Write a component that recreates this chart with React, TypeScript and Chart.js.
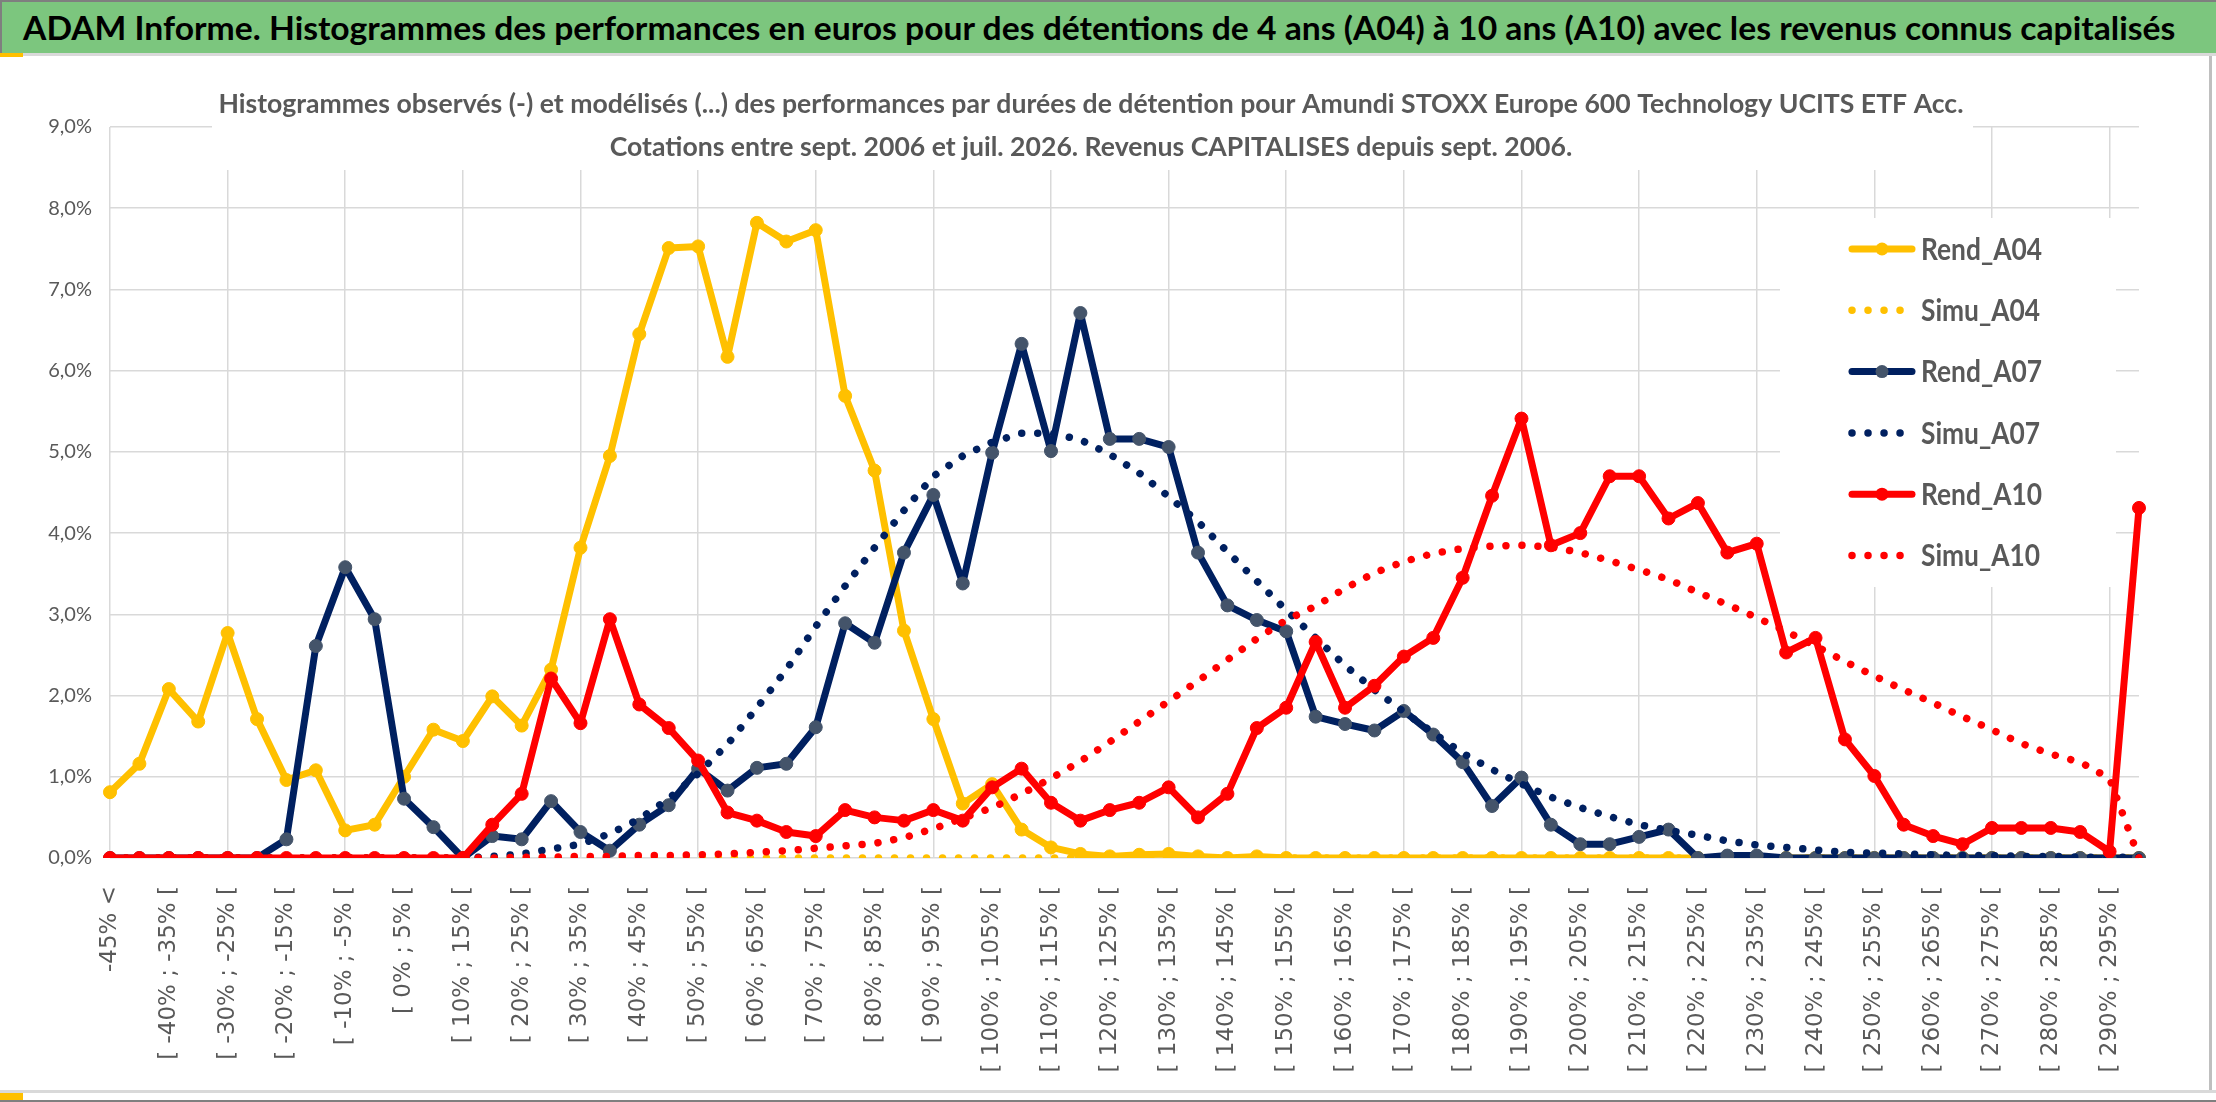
import { useEffect, useMemo, useRef } from "react";
import { Chart, registerables } from "chart.js";

Chart.register(...registerables);

const W = 2216;
const H = 1102;

const HEADER =
  "ADAM Informe. Histogrammes des performances en euros pour des détentions de 4 ans (A04) à 10 ans (A10) avec les revenus connus capitalisés";
const TITLE_1 =
  "Histogrammes observés (-) et modélisés (...) des performances par durées de détention pour Amundi STOXX Europe 600 Technology UCITS ETF Acc.";
const TITLE_2 =
  "Cotations entre sept. 2006 et juil. 2026. Revenus CAPITALISES depuis sept. 2006.";

// bins of 5% (one label out of two is shown on the axis)
const LABELS = [
  "-45% <",
  "[ -45% ; -40% [", "[ -40% ; -35% [", "[ -35% ; -30% [", "[ -30% ; -25% [",
  "[ -25% ; -20% [", "[ -20% ; -15% [", "[ -15% ; -10% [", "[ -10% ; -5% [",
  "[ -5% ; 0% [", "[ 0% ; 5% [", "[ 5% ; 10% [", "[ 10% ; 15% [",
  "[ 15% ; 20% [", "[ 20% ; 25% [", "[ 25% ; 30% [", "[ 30% ; 35% [",
  "[ 35% ; 40% [", "[ 40% ; 45% [", "[ 45% ; 50% [", "[ 50% ; 55% [",
  "[ 55% ; 60% [", "[ 60% ; 65% [", "[ 65% ; 70% [", "[ 70% ; 75% [",
  "[ 75% ; 80% [", "[ 80% ; 85% [", "[ 85% ; 90% [", "[ 90% ; 95% [",
  "[ 95% ; 100% [", "[ 100% ; 105% [", "[ 105% ; 110% [", "[ 110% ; 115% [",
  "[ 115% ; 120% [", "[ 120% ; 125% [", "[ 125% ; 130% [", "[ 130% ; 135% [",
  "[ 135% ; 140% [", "[ 140% ; 145% [", "[ 145% ; 150% [", "[ 150% ; 155% [",
  "[ 155% ; 160% [", "[ 160% ; 165% [", "[ 165% ; 170% [", "[ 170% ; 175% [",
  "[ 175% ; 180% [", "[ 180% ; 185% [", "[ 185% ; 190% [", "[ 190% ; 195% [",
  "[ 195% ; 200% [", "[ 200% ; 205% [", "[ 205% ; 210% [", "[ 210% ; 215% [",
  "[ 215% ; 220% [", "[ 220% ; 225% [", "[ 225% ; 230% [", "[ 230% ; 235% [",
  "[ 235% ; 240% [", "[ 240% ; 245% [", "[ 245% ; 250% [", "[ 250% ; 255% [",
  "[ 255% ; 260% [", "[ 260% ; 265% [", "[ 265% ; 270% [", "[ 270% ; 275% [",
  "[ 275% ; 280% [", "[ 280% ; 285% [", "[ 285% ; 290% [", "[ 290% ; 295% [",
  "295% >",
];

// values in %
const REND_A04 = [
  0.81, 1.16, 2.08, 1.68, 2.77, 1.71, 0.96, 1.08, 0.34, 0.41,
  1.0, 1.58, 1.44, 1.99, 1.63, 2.32, 3.82, 4.95, 6.45, 7.51,
  7.53, 6.17, 7.82, 7.59, 7.73, 5.69, 4.77, 2.8, 1.71, 0.67,
  0.91, 0.35, 0.13, 0.05, 0.02, 0.04, 0.05, 0.02, 0.0, 0.02,
  0.0, 0.0, 0.0, 0.0, 0.0, 0.0, 0.0, 0.0, 0.0, 0.0,
  0.0, 0.0, 0.0, 0.0, 0.0, 0.0, 0.0, 0.0, 0.0, 0.0,
  0.0, 0.0, 0.0, 0.0, 0.0, 0.0, 0.0, 0.0, 0.0, 0.0,
];
const SIMU_A04 = [
  0, 0, 0, 0, 0, 0, 0, 0, 0, 0,
  0, 0, 0, 0, 0, 0, 0, 0, 0, 0,
  0, 0, 0, 0, 0, 0, 0, 0, 0, 0,
  0, 0, 0, 0, 0, 0, 0, 0, 0, 0,
  0, 0, 0, 0, 0, 0, 0, 0, 0, 0,
  0, 0, 0, 0, 0, 0, 0, 0, 0, 0,
  0, 0, 0, 0, 0, 0, 0, 0, 0, 0,
];
const REND_A07 = [
  0, 0, 0, 0, 0, 0, 0.23, 2.61, 3.58, 2.94,
  0.73, 0.38, 0, 0.27, 0.23, 0.7, 0.32, 0.09, 0.41, 0.65,
  1.1, 0.83, 1.11, 1.16, 1.61, 2.89, 2.65, 3.76, 4.47, 3.38,
  4.99, 6.33, 5.01, 6.71, 5.16, 5.16, 5.06, 3.76, 3.11, 2.93,
  2.79, 1.74, 1.65, 1.57, 1.81, 1.52, 1.18, 0.64, 0.99, 0.41,
  0.17, 0.17, 0.26, 0.35, 0.0, 0.03, 0.03, 0.0, 0.0, 0.0,
  0.0, 0.0, 0.0, 0.0, 0.0, 0.0, 0.0, 0.0, 0.0, 0.0,
];
const SIMU_A07 = [
  0, 0, 0, 0, 0, 0, 0, 0, 0, 0,
  0, 0, 0.0, 0.02, 0.05, 0.11, 0.17, 0.3, 0.48, 0.73,
  1.04, 1.4, 1.85, 2.32, 2.85, 3.35, 3.82, 4.28, 4.7, 4.95,
  5.12, 5.23, 5.23, 5.15, 4.97, 4.74, 4.45, 4.14, 3.77, 3.41,
  3.05, 2.71, 2.37, 2.07, 1.8, 1.54, 1.29, 1.09, 0.91, 0.75,
  0.62, 0.51, 0.41, 0.34, 0.28, 0.21, 0.16, 0.13, 0.1, 0.07,
  0.06, 0.05, 0.04, 0.03, 0.03, 0.02, 0.02, 0.01, 0.01, 0.01,
];
const REND_A10 = [
  0, 0, 0, 0, 0, 0, 0, 0, 0, 0,
  0, 0, 0, 0.41, 0.79, 2.21, 1.66, 2.94, 1.89, 1.6,
  1.2, 0.56, 0.46, 0.32, 0.27, 0.59, 0.5, 0.46, 0.59, 0.46,
  0.87, 1.1, 0.68, 0.46, 0.59, 0.68, 0.87, 0.5, 0.79, 1.6,
  1.85, 2.66, 1.85, 2.12, 2.48, 2.71, 3.45, 4.46, 5.41, 3.85,
  4.0, 4.7, 4.7, 4.18, 4.37, 3.76, 3.87, 2.53, 2.71, 1.46,
  1.01, 0.41, 0.27, 0.17, 0.37, 0.37, 0.37, 0.32, 0.08, 4.31,
];
const SIMU_A10 = [
  0, 0, 0, 0, 0, 0, 0, 0, 0, 0,
  0, 0, 0, 0.0, 0.01, 0.01, 0.02, 0.02, 0.03, 0.03,
  0.04, 0.05, 0.07, 0.09, 0.12, 0.15, 0.18, 0.25, 0.36, 0.49,
  0.62, 0.79, 0.98, 1.19, 1.43, 1.68, 1.93, 2.18, 2.44, 2.7,
  2.93, 3.1, 3.32, 3.51, 3.65, 3.75, 3.81, 3.84, 3.85, 3.83,
  3.76, 3.66, 3.55, 3.43, 3.27, 3.12, 2.96, 2.79, 2.61, 2.42,
  2.24, 2.07, 1.91, 1.74, 1.58, 1.41, 1.28, 1.18, 0.98, 0,
];

const SERIES_NAMES = ["Rend_A04", "Simu_A04", "Rend_A07", "Simu_A07", "Rend_A10", "Simu_A10"];
const SERIES_DATA = [REND_A04, SIMU_A04, REND_A07, SIMU_A07, REND_A10, SIMU_A10];
const LINE_COLORS = ["#FFC000", "#FFC000", "#002060", "#002060", "#FF0000", "#FF0000"];
const MARKER_COLORS = ["#FFC000", "#FFC000", "#44546A", "#44546A", "#FF0000", "#FF0000"];
const DOTTED = [false, true, false, true, false, true];

const TEXT_GRAY = "#595959";
const GRID = "#d9d9d9";

function textWidth(text: string, font: string) {
  const c = document.createElement("canvas").getContext("2d") as CanvasRenderingContext2D;
  c.font = font;
  return c.measureText(text).width;
}

// draws text at a given font size, squeezed/stretched horizontally to a target width
function drawSqueezed(
  ctx: CanvasRenderingContext2D,
  text: string,
  x: number,
  y: number,
  font: string,
  width: number,
  align: "left" | "center",
) {
  ctx.save();
  ctx.font = font;
  const sx = width / ctx.measureText(text).width;
  ctx.translate(x, y);
  ctx.scale(sx, 1);
  ctx.textAlign = align;
  ctx.textBaseline = "middle";
  ctx.fillText(text, 0, 0);
  ctx.restore();
}

const overlay = {
  id: "overlay",
  beforeDatasetsDraw(chart: any) {
    const ctx = chart.ctx as CanvasRenderingContext2D;
    ctx.save();

    // title box over the gridlines
    ctx.fillStyle = "#ffffff";
    ctx.fillRect(212, 60, 1761, 110);
    ctx.fillStyle = TEXT_GRAY;
    const tFont = "bold 27px Lato";
    const sx = 1745 / textWidth(TITLE_1, tFont);
    drawSqueezed(ctx, TITLE_1, 1091, 104, tFont, 1745, "center");
    drawSqueezed(ctx, TITLE_2, 1091, 147, tFont, textWidth(TITLE_2, tFont) * sx, "center");

    // legend box
    ctx.fillStyle = "#ffffff";
    ctx.fillRect(1780, 218, 336, 369);
    const lFont = "bold 30px Lato";
    const lsx = 121 / textWidth("Rend_A04", lFont);
    chart.data.datasets.forEach((ds: any, i: number) => {
      const y = 249 + i * 61.3;
      ctx.save();
      ctx.strokeStyle = ds.borderColor;
      ctx.lineWidth = ds.borderWidth;
      ctx.lineCap = "round";
      ctx.setLineDash(ds.borderDash || []);
      ctx.beginPath();
      ctx.moveTo(1852, y);
      ctx.lineTo(ds.borderDash && ds.borderDash.length ? 1916 : 1912, y);
      ctx.stroke();
      ctx.restore();
      if (ds.pointRadius > 0) {
        ctx.fillStyle = ds.pointBackgroundColor;
        ctx.beginPath();
        ctx.arc(1882, y, ds.pointRadius, 0, Math.PI * 2);
        ctx.fill();
      }
      ctx.fillStyle = TEXT_GRAY;
      drawSqueezed(ctx, ds.label, 1921, y + 1, lFont, textWidth(ds.label, lFont) * lsx, "left");
    });
    ctx.restore();
  },
};

function HistoChart() {
  const ref = useRef<HTMLCanvasElement | null>(null);

  useEffect(() => {
    if (!ref.current) return;
    const datasets = SERIES_NAMES.map((name, i) => ({
      label: name,
      data: SERIES_DATA[i],
      borderColor: LINE_COLORS[i],
      backgroundColor: LINE_COLORS[i],
      borderWidth: DOTTED[i] ? 7.5 : 7,
      borderDash: DOTTED[i] ? [0.01, 16] : [],
      borderCapStyle: "round",
      borderJoinStyle: "round",
      pointRadius: DOTTED[i] ? 0 : 6.5,
      pointBackgroundColor: MARKER_COLORS[i],
      pointBorderColor: MARKER_COLORS[i],
      pointBorderWidth: 1,
      tension: 0,
      fill: false,
      order: SERIES_NAMES.length - i,
    }));

    const chart = new Chart(ref.current, {
      type: "line",
      data: { labels: LABELS, datasets: datasets as any },
      options: {
        animation: false,
        responsive: true,
        maintainAspectRatio: false,
        layout: { padding: { top: 127, right: 77, bottom: 10, left: 0 } },
        plugins: {
          legend: { display: false },
          title: { display: false },
          tooltip: { enabled: false },
        },
        scales: {
          x: {
            offset: false,
            border: { display: false },
            grid: {
              color: (c: any) => (c.index % 4 === 0 ? GRID : "rgba(0,0,0,0)"),
              lineWidth: 1.5,
              drawTicks: false,
            },
            ticks: {
              autoSkip: false,
              maxRotation: 90,
              minRotation: 90,
              padding: 28,
              color: TEXT_GRAY,
              font: { family: "DejaVu Sans", size: 23 },
              callback: (_v: any, i: number) => (i % 2 === 0 ? LABELS[i] : ""),
            },
            afterFit: (s: any) => {
              s.height = H - 10 - 858;
            },
          },
          y: {
            min: 0,
            max: 9,
            border: { display: false },
            grid: { color: GRID, lineWidth: 1.5, drawTicks: false },
            ticks: {
              stepSize: 1,
              padding: 18,
              color: TEXT_GRAY,
              font: { family: "Lato", size: 20 },
              callback: (v: any) => Number(v).toFixed(1).replace(".", ",") + "%",
            },
            afterFit: (s: any) => {
              s.width = 110;
            },
          },
        },
      },
      plugins: [overlay],
    });

    return () => chart.destroy();
  }, []);

  return <canvas ref={ref} />;
}

export default function App() {
  useEffect(() => {
    document.body.style.margin = "0";
  }, []);

  const headerScale = useMemo(() => 2153 / textWidth(HEADER, "bold 32px Lato"), []);

  return (
    <div style={{ position: "relative", width: W, height: H, background: "#fff", overflow: "hidden" }}>
      <div style={{ position: "absolute", left: 0, top: 0, width: W, height: H }}>
        <HistoChart />
      </div>
      <div
        style={{
          position: "absolute",
          left: 0,
          top: 0,
          width: W,
          height: 53,
          background: "#7CC67E",
          borderTop: "2px solid #7f7f7f",
          borderLeft: "2px solid #7f7f7f",
          boxSizing: "border-box",
        }}
      >
        <div
          style={{
            position: "absolute",
            left: 21,
            top: 0,
            height: 51,
            lineHeight: "51px",
            fontFamily: "Lato",
            fontWeight: "bold",
            fontSize: 32,
            color: "#000",
            whiteSpace: "nowrap",
            transform: `scaleX(${headerScale})`,
            transformOrigin: "0 0",
          }}
        >
          {HEADER}
        </div>
      </div>
      <div style={{ position: "absolute", left: 0, top: 53, width: W, height: 3, background: "#d9d9d9" }} />
      <div style={{ position: "absolute", left: 0, top: 53, width: 23, height: 4, background: "#FFC000" }} />
      <div style={{ position: "absolute", left: 2209, top: 56, width: 3, height: 1036, background: "#bfbfbf" }} />
      <div style={{ position: "absolute", left: 0, top: 1090, width: W, height: 3, background: "#d9d9d9" }} />
      <div style={{ position: "absolute", left: 0, top: 1093, width: 23, height: 7, background: "#FFC000" }} />
      <div style={{ position: "absolute", left: 0, top: 1100, width: W, height: 2, background: "#7f7f7f" }} />
    </div>
  );
}
